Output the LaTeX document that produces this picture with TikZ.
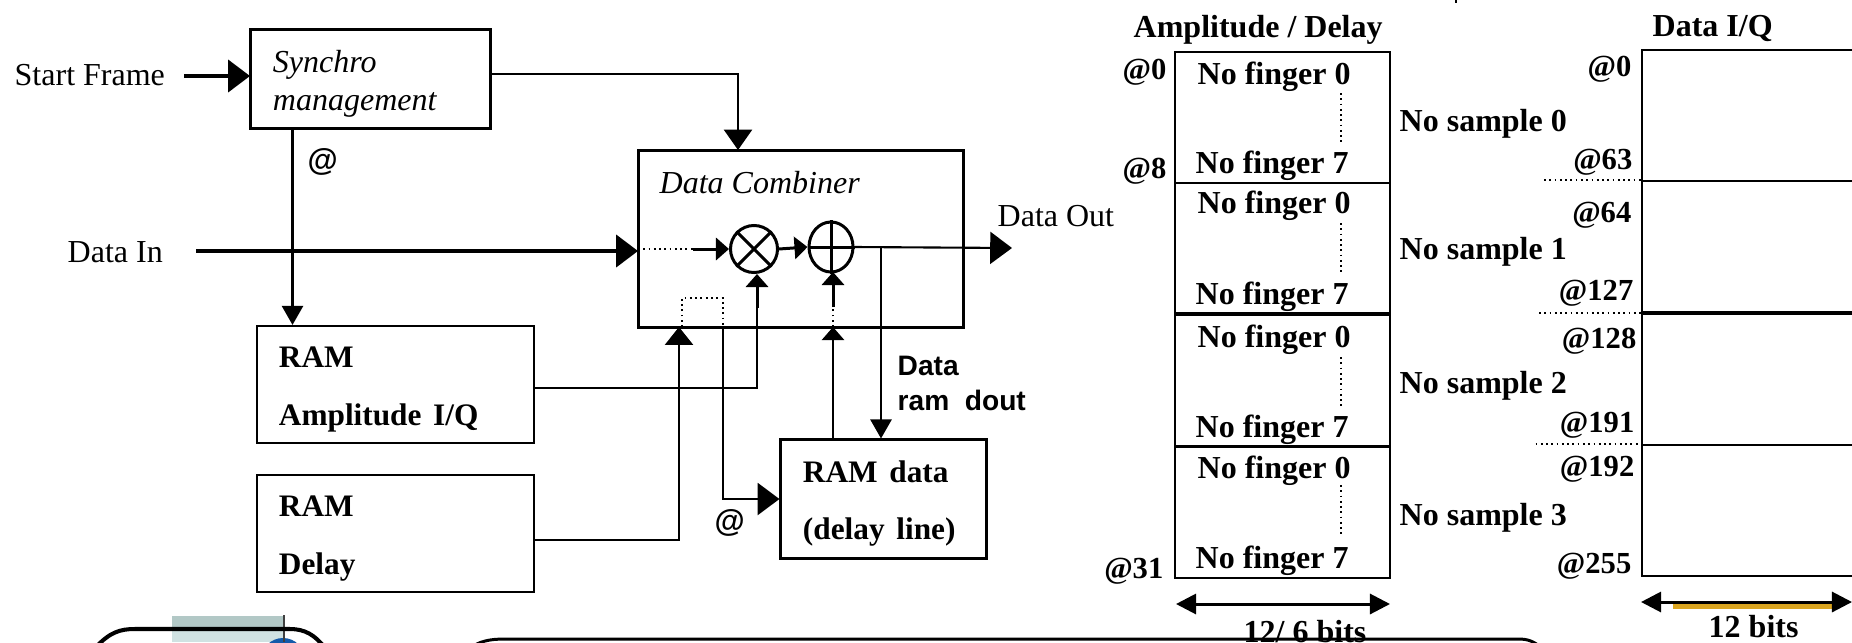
\documentclass[tikz,border=0pt]{standalone}
\usepackage{fontspec}
\setmainfont{Liberation Serif}
\setsansfont{Liberation Sans}
\usetikzlibrary{arrows.meta,shapes.geometric}
\definecolor{patchdark}{RGB}{178,200,198}
\definecolor{patchlight}{RGB}{208,226,226}
\definecolor{logoblue}{RGB}{20,90,170}
\definecolor{bargold}{RGB}{218,165,32}
\tikzset{
  block/.style={draw,line width=0.85pt,inner xsep=0.22cm,inner ysep=0pt,align=left},
  cell/.style={draw,line width=0.6pt,inner sep=0pt,minimum height=1.31cm,anchor=north west},
  txt/.style={inner sep=0pt,font=\fontsize{9.1}{11}\selectfont},
  btxt/.style={txt,yshift=-0.03cm,font=\fontsize{9.1}{11}\selectfont\bfseries},
  addr/.style={btxt,anchor=east,font=\fontsize{8.7}{11}\selectfont\bfseries},
  atxt/.style={inner sep=0pt,align=left,font=\fontsize{8}{10.2}\selectfont\sffamily\bfseries},
  wire/.style={line width=0.6pt},
  fat/.style={line width=0.85pt},
  dots/.style={line width=0.5pt,densely dotted},
  tipbig/.style={-{Triangle[length=6.2pt,width=9.1pt]}},
  tipdown/.style={-{Triangle[length=5.4pt,width=6pt]}},
  tipup/.style={-{Triangle[length=5.1pt,width=8pt]}},
  tipsmall/.style={-{Triangle[length=3.7pt,width=6.3pt]}},
  span/.style={{Triangle[length=5.7pt,width=5.7pt]}-{Triangle[length=5.7pt,width=5.7pt]}}
}
\begin{document}
\begin{tikzpicture}[x=0.01cm,y=-0.01cm]
\useasboundingbox (0,0) rectangle (1852,642);

% Blocks
\node[block,minimum width=2.39cm,minimum height=0.98cm,text width=1.95cm] (synchro) at (370.5,79)
  {\fontsize{9.1}{11}\selectfont\itshape\rule{0pt}{0.31cm}Synchro\\[-0.04cm]management};
\node[block,minimum width=3.25cm,minimum height=1.76cm] (combiner) at (801,239) {};
\node[block,line width=0.6pt,minimum width=2.77cm,minimum height=1.17cm,text width=2.33cm] (ramamp) at (395.5,384.5)
  {\fontsize{8.9}{11}\selectfont\bfseries\rule{0pt}{0.31cm}RAM\\[0.16cm]Amplitude I/Q};
\node[block,line width=0.6pt,minimum width=2.77cm,minimum height=1.17cm,text width=2.33cm] (ramdelay) at (395.5,533.5)
  {\fontsize{8.9}{11}\selectfont\bfseries\rule{0pt}{0.31cm}RAM\\[0.16cm]Delay};
\node[block,minimum width=2.05cm,minimum height=1.18cm,text width=1.61cm] (ramdata) at (883.5,499)
  {\fontsize{8.9}{11}\selectfont\bfseries\rule{0pt}{0.3cm}RAM data\\[0.15cm](delay line)};

% Operators
\node[draw,circle,line width=0.85pt,minimum size=0.47cm,inner sep=0pt] (mul) at (754,249) {};
\node[draw,ellipse,line width=0.85pt,minimum width=0.44cm,minimum height=0.5cm,inner sep=0pt] (add) at (831,247) {};
\draw[fat] (mul.north west) -- (mul.south east);
\draw[fat] (mul.north east) -- (mul.south west);
\draw[fat] (add.north) -- (add.south);
\draw[fat] (add.west) -- (add.east);

% Labels of the left part
\node[txt,anchor=west] (startframe) at (14,75) {Start Frame};
\node[txt,anchor=west] (datain) at (67,252) {Data In};
\node[txt,anchor=west] (dataout) at (997,216) {Data Out};
\node[txt,anchor=west,font=\fontsize{9.1}{11}\selectfont\itshape] (combtitle) at (659,183) {Data Combiner};
\node[atxt,anchor=west,font=\fontsize{8.8}{11}\selectfont\sffamily\bfseries] (addra) at (307,162) {@};
\node[atxt,anchor=west,font=\fontsize{8.8}{11}\selectfont\sffamily\bfseries] (addrb) at (714,523) {@};
\node[atxt,anchor=north west] (dout) at (897,355) {Data\\ram\ \ dout};

% Free ends of the connectors
\coordinate (startfree) at (184,76);
\coordinate (synctip) at (250,76);
\coordinate (infree) at (196,251);
\coordinate (intip) at (638,251);
\coordinate (syncout) at (490,74);
\coordinate (combtop) at (738,150);
\coordinate (stem) at (292.5,128);
\coordinate (dotin) at (638,249);
\coordinate (dotend) at (693,249);
\coordinate (outtip) at (1012,248);
\coordinate (outtap) at (881,248);
\coordinate (delayin) at (679,327);
\coordinate (delayout) at (533.5,540);
\coordinate (dotup) at (682,298);
\coordinate (dotdown) at (723,298);
\coordinate (addrout) at (723,327);
\coordinate (ampout) at (534,388);
\coordinate (ampup) at (757,308);
\coordinate (ramup) at (833,440);
\coordinate (ramtop) at (833,327);
\coordinate (ramdot) at (833,307);

% Connectors
\draw[line width=1pt,tipbig] (startfree) -- (synctip);
\draw[line width=1pt,tipbig] (infree) -- (intip);
\draw[wire,-{Triangle[length=5.8pt,width=8pt]}] (syncout) -| (combtop);
\draw[wire,tipdown] (stem) -- (stem |- ramamp.north);
\draw[dots] (dotin) -- (dotend);
\draw[fat,tipsmall] (dotend) -- (mul.west);
\draw[fat,tipsmall] (mul.east) -- (add.west);
\draw[wire,tipbig] (add.east) -- (outtip);
\draw[wire,tipdown] (outtap) -- (outtap |- ramdata.north);
\draw[wire,tipup] (delayout) -| (delayin);
\draw[dots] (dotup |- delayin) -- (dotup) -- (dotdown) -- (addrout);
\draw[wire,tipbig] (addrout) |- (ramdata.west);
\draw[wire] (ampout) -| (ampup);
\draw[fat,tipsmall] (ampup) -- ++(0,-34);
\draw[wire,tipsmall] (ramup) -- (ramtop);
\draw[dots] (ramtop) -- (ramdot);
\draw[fat,tipsmall] (ramdot) -- ++(0,-35);

% Amplitude / Delay memory
\node[btxt,anchor=west] (amptitle) at (1133,27) {Amplitude / Delay};
\foreach \i/\ytop/\yzero/\yseven/\ysample/\dota/\dotb in
  {0/51/74/163/121/93/143,1/182/203/294/249/223/275,2/314/337/427/383/357/408,3/446/468/558/515/485/537}{
  \node[cell,minimum width=2.15cm] (amp\i) at (1174,\ytop) {};
  \node[btxt,anchor=west] (fingzero\i) at (1197,\yzero) {No finger 0};
  \node[btxt,anchor=west] (fingseven\i) at (1195,\yseven) {No finger 7};
  \node[btxt,anchor=west] (sample\i) at (1399,\ysample) {No sample \i};
  \draw[dots] (1341,\dota) coordinate (dota\i) -- (1341,\dotb) coordinate (dotb\i);
}
\draw[line width=1.1pt] (amp2.north west) -- (amp2.north east);
\node[addr] (ampa) at (1167,69) {@0};
\node[addr] (ampb) at (1167,168) {@8};
\node[addr] (ampc) at (1164,568) {@31};
\coordinate (ampleft) at (1176,604);
\coordinate (ampright) at (1390,604);
\draw[fat,span] (ampleft) -- (ampright);
\node[btxt,anchor=west,yshift=0.03cm] (ampbits) at (1243,632) {12/ 6 bits};

% Data I/Q memory
\node[btxt,anchor=west] (iqtitle) at (1652,25) {Data I/Q};
\foreach \i/\ytop in {0/49,1/180,2/313,3/444}{
  \node[cell,minimum width=2.3cm] (iq\i) at (1640.5,\ytop) {};
}
\draw[line width=1.1pt] (iq2.north west) -- (iq2.north east);
\foreach \lab/\xend/\yc in {0/1632/66,63/1633/159,64/1632/212,127/1634/290,128/1637/338,191/1635/422,192/1635/466,255/1632/563}{
  \node[addr] (iqaddr\lab) at (\xend,\yc) {@\lab};
}
\coordinate (iqdota) at (1544,180);
\coordinate (iqdotb) at (1539,313);
\coordinate (iqdotc) at (1535.5,444);
\draw[dots] (iqdota) -- (iq1.north west);
\draw[dots] (iqdotb) -- (iq2.north west);
\draw[dots] (iqdotc) -- (iq3.north west);
\coordinate (iqleft) at (1641,602);
\coordinate (iqright) at (1852,602);
\fill[bargold] (1673,603) rectangle (1833,609);
\draw[fat,span] (iqleft) -- (iqright);
\node[btxt,anchor=west] (iqbits) at (1708,624) {12 bits};

% Tick at the top edge
\draw[wire] (1456,0) -- (1456,3);

% Bottom of the page
\fill[patchdark] (172,616) rectangle (284,629);
\fill[patchlight] (172,629) rectangle (284,642);
\fill[logoblue] (283,660) circle (22);
\draw[wire,black!75] (284,615) -- (284,642);
\draw[line width=1.15pt] (95,648) .. controls (110,632) and (120,629) .. (135,629) -- (290,629) .. controls (305,629) and (315,635) .. (325,648);
\draw[line width=0.85pt] (468,650) .. controls (478,641) and (490,639) .. (505,639) -- (1518,639) .. controls (1528,639) and (1533,641) .. (1542,648);
\end{tikzpicture}
\end{document}
